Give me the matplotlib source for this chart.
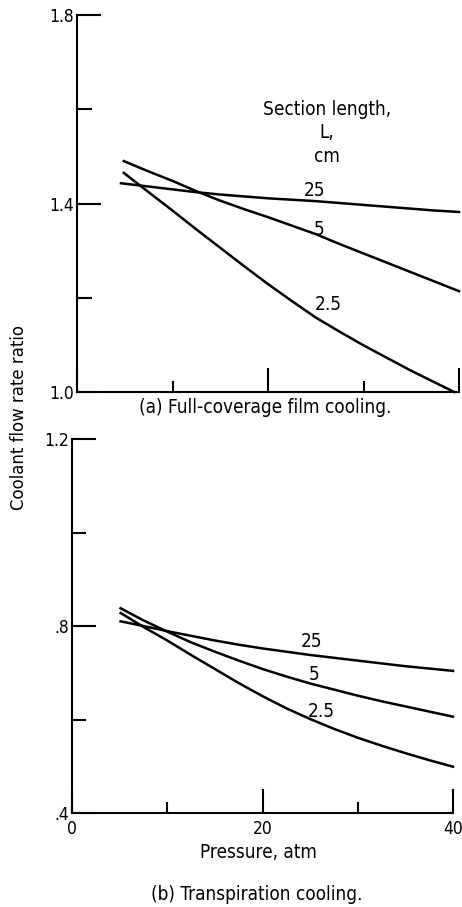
import matplotlib
matplotlib.use("Agg")
import matplotlib.pyplot as plt
from matplotlib.ticker import FixedLocator

plt.rcParams['font.family'] = ['DejaVu Sans']
plt.rcParams['font.stretch'] = 'condensed'

# ---- data ----
# (a) Full-coverage film cooling
a_p25 = [4.6, 7.5, 10, 12.5, 15, 17.5, 20, 22.5, 25, 27.5, 30, 32.5, 35, 37.5, 40]
a_v25 = [1.443, 1.436, 1.430, 1.424, 1.419, 1.415, 1.411, 1.408, 1.405, 1.401, 1.397, 1.393, 1.389, 1.385, 1.382]
a_p5 = [4.9, 7.5, 10, 12.5, 15, 17.5, 20, 22.5, 25, 27.5, 30, 32.5, 35, 37.5, 40]
a_v5 = [1.490, 1.468, 1.448, 1.426, 1.406, 1.388, 1.371, 1.353, 1.335, 1.314, 1.294, 1.274, 1.254, 1.234, 1.214]
a_p2 = [4.9, 7.5, 10, 12.5, 15, 17.5, 20, 22.5, 25, 27.5, 30, 32.5, 35, 37.5, 39.5]
a_v2 = [1.465, 1.424, 1.385, 1.345, 1.306, 1.267, 1.229, 1.193, 1.158, 1.128, 1.099, 1.072, 1.045, 1.020, 1.000]

# (b) Transpiration cooling
b_p25 = [5.1, 7.5, 10, 12.5, 15, 17.5, 20, 22.5, 25, 27.5, 30, 32.5, 35, 37.5, 40]
b_v25 = [0.810, 0.800, 0.789, 0.779, 0.769, 0.760, 0.752, 0.745, 0.738, 0.732, 0.726, 0.720, 0.714, 0.709, 0.704]
b_p5 = [5.1, 7.5, 10, 12.5, 15, 17.5, 20, 22.5, 25, 27.5, 30, 32.5, 35, 37.5, 40]
b_v5 = [0.838, 0.812, 0.788, 0.765, 0.745, 0.726, 0.708, 0.692, 0.677, 0.664, 0.651, 0.639, 0.628, 0.617, 0.606]
b_p2 = [5.1, 7.5, 10, 12.5, 15, 17.5, 20, 22.5, 25, 27.5, 30, 32.5, 35, 37.5, 40]
b_v2 = [0.828, 0.798, 0.769, 0.738, 0.708, 0.678, 0.650, 0.624, 0.601, 0.580, 0.561, 0.544, 0.528, 0.513, 0.499]

curve_labels = ["25", "5", "2.5"]
a_label_pos = [(24.9, 1.427), (25.4, 1.344), (26.3, 1.185)]
b_label_pos = [(25.1, 0.766), (25.4, 0.697), (26.2, 0.618)]

a_yticks_major = [1.0, 1.4, 1.8]
a_ylabels = ["1.0", "1.4", "1.8"]
a_yticks_minor = [1.2, 1.6]
b_yticks_major = [0.4, 0.8, 1.2]
b_ylabels = [".4", ".8", "1.2"]
b_yticks_minor = [0.6, 1.0]
xticks_major = [0, 20, 40]
xlabels = ["0", "20", "40"]
xticks_minor = [10, 30]

W, H = 462, 907
fig = plt.figure(figsize=(W / 100, H / 100), dpi=100)

def box(l, t, r, b):
    return [l / W, 1 - b / H, (r - l) / W, (b - t) / H]

ax1 = fig.add_axes(box(77, 15, 459, 392))
ax2 = fig.add_axes(box(72, 439, 453, 813))

lw = 1.8
fs_tick = 12.5
fs = 13.6
for ax in (ax1, ax2):
    ax.set_facecolor('white')
    for s in ('top', 'right'):
        ax.spines[s].set_visible(False)
    for s in ('left', 'bottom'):
        ax.spines[s].set_linewidth(1.5)
    ax.set_xlim(0, 40)
    ax.xaxis.set_major_locator(FixedLocator(xticks_major))
    ax.xaxis.set_minor_locator(FixedLocator(xticks_minor))
    ax.tick_params(axis='both', which='major', direction='in', length=17, width=1.5,
                   labelsize=fs_tick, color='black')
    ax.tick_params(axis='both', which='minor', direction='in', length=8, width=1.5)
    ax.tick_params(axis='y', which='major', pad=2)
    ax.tick_params(axis='x', which='major', pad=5)

ax1.set_ylim(1.0, 1.8)
ax1.yaxis.set_major_locator(FixedLocator(a_yticks_major))
ax1.yaxis.set_minor_locator(FixedLocator(a_yticks_minor))
ax1.set_yticklabels(a_ylabels)
ax1.set_xticklabels([])
ax1.tick_params(axis='y', which='minor', length=11)

ax2.set_ylim(0.4, 1.2)
ax2.yaxis.set_major_locator(FixedLocator(b_yticks_major))
ax2.yaxis.set_minor_locator(FixedLocator(b_yticks_minor))
ax2.set_yticklabels(b_ylabels)
ax2.set_xticklabels(xlabels)
ax2.tick_params(axis='y', which='minor', length=10)

for p, v in ((a_p25, a_v25), (a_p5, a_v5), (a_p2, a_v2)):
    ax1.plot(p, v, color='black', lw=lw, clip_on=False, solid_joinstyle='round')
for p, v in ((b_p25, b_v25), (b_p5, b_v5), (b_p2, b_v2)):
    ax2.plot(p, v, color='black', lw=lw, clip_on=False, solid_joinstyle='round')

for lab, (x, y) in zip(curve_labels, a_label_pos):
    ax1.text(x, y, lab, ha='center', va='center', fontsize=fs)
for lab, (x, y) in zip(curve_labels, b_label_pos):
    ax2.text(x, y, lab, ha='center', va='center', fontsize=fs)

ax1.text(26.2, 1.60, "Section length,", ha='center', va='center', fontsize=fs)
ax1.text(26.2, 1.55, "L,", ha='center', va='center', fontsize=fs)
ax1.text(26.2, 1.50, "cm", ha='center', va='center', fontsize=fs)

fig.text(265 / W, 1 - 407 / H, "(a) Full-coverage film cooling.", ha='center', va='center', fontsize=fs)
fig.text(258 / W, 1 - 853 / H, "Pressure, atm", ha='center', va='center', fontsize=fs)
fig.text(257 / W, 1 - 895 / H, "(b) Transpiration cooling.", ha='center', va='center', fontsize=fs)
fig.text(19 / W, 1 - 418 / H, "Coolant flow rate ratio", ha='center', va='center',
         rotation=90, fontsize=13.2)

fig.savefig("out.png", dpi=100, facecolor='white')
